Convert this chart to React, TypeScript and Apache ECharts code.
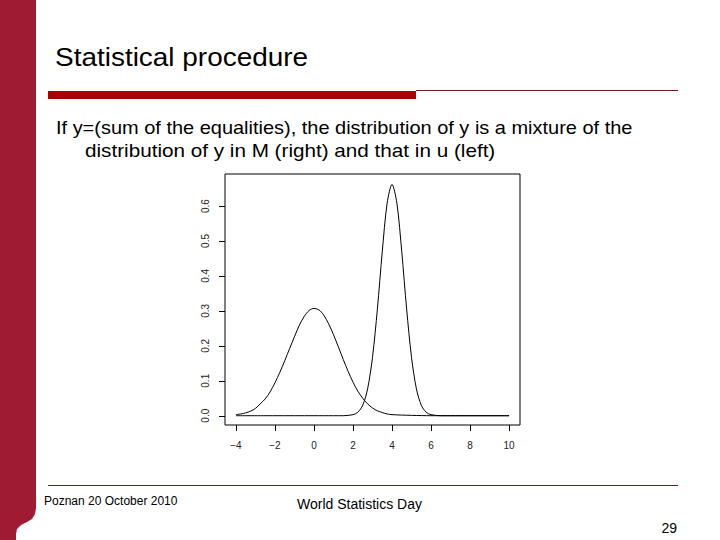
import React, { useEffect, useRef } from "react";
import * as echarts from "echarts";

// ---- data ----
const xTickValues = [-4, -2, 0, 2, 4, 6, 8, 10];
const yTickValues = [0, 0.1, 0.2, 0.3, 0.4, 0.5, 0.6];

// left component (u): centred at 0
const leftX = [-4, -3.75, -3.5, -3.25, -3, -2.75, -2.5, -2.25, -2, -1.75, -1.5, -1.25, -1, -0.75, -0.5, -0.25, 0, 0.25, 0.5, 0.75, 1, 1.25, 1.5, 1.75, 2, 2.25, 2.5, 2.75, 3, 3.25, 3.5, 3.75, 4, 5, 6, 7, 8, 9, 10];
const leftY = [0.003, 0.005, 0.008, 0.013, 0.021, 0.034, 0.048, 0.068, 0.094, 0.124, 0.157, 0.192, 0.226, 0.259, 0.284, 0.301, 0.307, 0.303, 0.288, 0.263, 0.232, 0.197, 0.161, 0.127, 0.096, 0.07, 0.05, 0.034, 0.022, 0.014, 0.009, 0.005, 0.003, 0.001, 0, 0, 0, 0, 0];

// right component (M): centred at 4
const rightX = [-4, -2, 0, 1, 1.5, 2, 2.25, 2.5, 2.75, 3, 3.25, 3.5, 3.75, 4, 4.25, 4.5, 4.75, 5, 5.25, 5.5, 5.75, 6, 6.5, 8, 10];
const rightY = [0, 0, 0, 0, 0, 0.003, 0.01, 0.03, 0.077, 0.167, 0.305, 0.469, 0.608, 0.662, 0.608, 0.469, 0.305, 0.167, 0.077, 0.03, 0.01, 0.003, 0, 0, 0];

const titleText = "Statistical procedure";
const subLine1 = "If y=(sum of the equalities), the distribution of y is a mixture of the";
const subLine2 = "distribution of y in M (right) and that in u (left)";
const footLeft = "Poznan 20 October 2010";
const footMid = "World Statistics Day";
const pageNo = "29";

const FONT = "'Liberation Sans', Arial, sans-serif";

// plot box (R style, data range extended by 4%)
const BOX = { left: 225, top: 174, width: 295, height: 251 };
const X_MIN = -4.56;
const X_MAX = 10.56;
const Y_MIN = -0.0266;
const Y_MAX = 0.6916;
const TICK_LEN = 6;

function fmtX(v: number) {
  return v < 0 ? "\u2212" + Math.abs(v) : String(v);
}

export default function App() {
  const ref = useRef<HTMLDivElement>(null);
  useEffect(() => {
    if (!ref.current) return;
    const chart = echarts.init(ref.current, undefined, { renderer: "svg" });
    const leftData = leftX.map((x, i) => [x, leftY[i]]);
    const rightData = rightX.map((x, i) => [x, rightY[i]]);

    chart.setOption({
      animation: false,
      backgroundColor: "#ffffff",
      grid: {
        left: BOX.left,
        top: BOX.top,
        width: BOX.width,
        height: BOX.height,
        show: true,
        borderColor: "#000",
        borderWidth: 1,
        backgroundColor: "transparent",
      },
      xAxis: {
        type: "value",
        min: X_MIN,
        max: X_MAX,
        axisLine: { show: false, onZero: false },
        splitLine: { show: false },
        axisTick: { show: false },
        axisLabel: {
          customValues: xTickValues,
          formatter: (v: number) => fmtX(v),
          fontFamily: FONT,
          fontSize: 10,
          color: "#222",
          margin: 15,
        },
      },
      yAxis: {
        type: "value",
        min: Y_MIN,
        max: Y_MAX,
        axisLine: { show: false, onZero: false },
        splitLine: { show: false },
        axisTick: { show: false },
        axisLabel: {
          customValues: yTickValues,
          formatter: (v: number) => v.toFixed(1),
          rotate: 90,
          fontFamily: FONT,
          fontSize: 10,
          color: "#222",
          margin: 15,
        },
      },
      series: [
        {
          type: "line",
          data: leftData,
          smooth: 0.3,
          symbol: "none",
          lineStyle: { color: "#000", width: 1 },
        },
        {
          type: "line",
          data: rightData,
          smooth: 0.3,
          symbol: "none",
          lineStyle: { color: "#000", width: 1 },
        },
      ],
    });

    // tick marks positioned through the chart's scales (with linear fallback)
    const toPx = (vx: number, vy: number): number[] => {
      let p: any = null;
      try {
        p = chart.convertToPixel({ gridIndex: 0 }, [vx, vy]);
      } catch (e) {
        p = null;
      }
      if (!p || !isFinite(p[0]) || !isFinite(p[1])) {
        p = [
          BOX.left + ((vx - X_MIN) / (X_MAX - X_MIN)) * BOX.width,
          BOX.top + ((Y_MAX - vy) / (Y_MAX - Y_MIN)) * BOX.height,
        ];
      }
      return p;
    };
    const tickLines: any[] = [];
    xTickValues.forEach((v) => {
      const p = toPx(v, Y_MIN);
      const x = Math.round(p[0]) + 0.5;
      const y = Math.round(p[1]);
      tickLines.push({
        type: "line",
        shape: { x1: x, y1: y, x2: x, y2: y + TICK_LEN },
        style: { stroke: "#000", lineWidth: 1 },
        z: 100,
      });
    });
    yTickValues.forEach((v) => {
      const p = toPx(X_MIN, v);
      const x = Math.round(p[0]);
      const y = Math.round(p[1]) + 0.5;
      tickLines.push({
        type: "line",
        shape: { x1: x - TICK_LEN, y1: y, x2: x, y2: y },
        style: { stroke: "#000", lineWidth: 1 },
        z: 100,
      });
    });

    chart.setOption({
      graphic: [
        {
          type: "polygon",
          shape: {
            points: [[0, 0], [36, 0], [36, 508], [35, 514], [32, 519], [27, 522], [21, 525], [17, 529], [16, 534], [16, 540], [0, 540]],
          },
          style: { fill: "#9f1a33" },
        },
        {
          type: "text",
          x: 55,
          y: 57,
          scaleX: 1.075,
          style: { text: titleText, fontFamily: FONT, fontSize: 26, fill: "#000", textVerticalAlign: "middle" },
        },
        {
          type: "rect",
          shape: { x: 48, y: 91, width: 368, height: 8 },
          style: { fill: "#a80000" },
        },
        {
          type: "rect",
          shape: { x: 416, y: 90, width: 262, height: 1 },
          style: { fill: "#7a1a1a" },
        },
        {
          type: "text",
          x: 56,
          y: 128,
          scaleX: 1.11,
          style: { text: subLine1, fontFamily: FONT, fontSize: 18, fill: "#000", textVerticalAlign: "middle" },
        },
        {
          type: "text",
          x: 85,
          y: 151,
          scaleX: 1.15,
          style: { text: subLine2, fontFamily: FONT, fontSize: 18, fill: "#000", textVerticalAlign: "middle" },
        },
        {
          type: "rect",
          shape: { x: 48, y: 485, width: 630, height: 1 },
          style: { fill: "#7a1a1a" },
        },
        {
          type: "text",
          x: 44,
          y: 501,
          style: { text: footLeft, fontFamily: FONT, fontSize: 12, fill: "#000", textVerticalAlign: "middle" },
        },
        {
          type: "text",
          x: 297,
          y: 504,
          style: { text: footMid, fontFamily: FONT, fontSize: 14, fill: "#000", textVerticalAlign: "middle" },
        },
        {
          type: "text",
          x: 677,
          y: 528,
          style: { text: pageNo, fontFamily: FONT, fontSize: 14, fill: "#000", textAlign: "right", textVerticalAlign: "middle" },
        },
        ...tickLines,
      ],
    });
    return () => chart.dispose();
  }, []);
  return (
    <div
      ref={ref}
      style={{ position: "fixed", left: 0, top: 0, width: 720, height: 540, background: "#fff" }}
    />
  );
}
